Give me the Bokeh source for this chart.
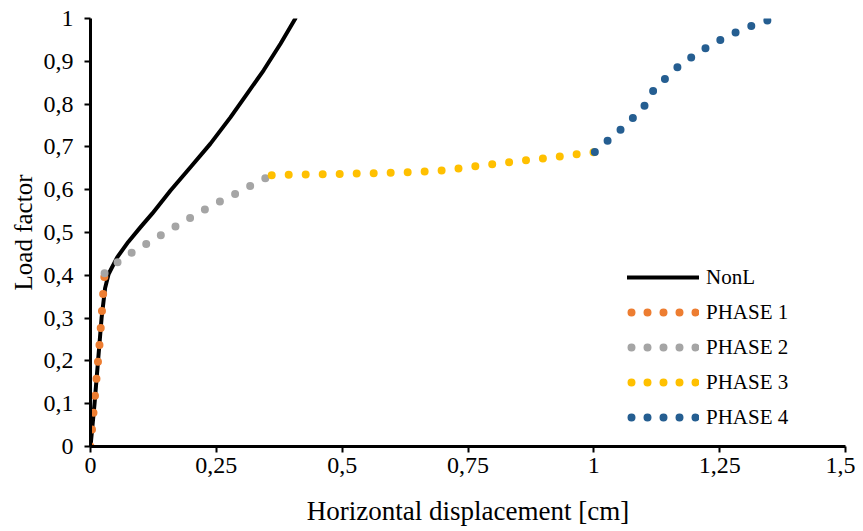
from bokeh.plotting import figure
from bokeh.models import FixedTicker, CustomJSTickFormatter, Legend, LegendItem, Range1d
from bokeh.embed import file_html
from bokeh.resources import INLINE

# ---- data ----
nonl_x = [0.0, 0.008, 0.015, 0.022, 0.029, 0.036, 0.053, 0.075, 0.099, 0.1225, 0.159, 0.199,
          0.238, 0.278, 0.311, 0.344, 0.3775, 0.407]
nonl_y = [0.0, 0.100, 0.200, 0.300, 0.370, 0.403, 0.442, 0.478, 0.512, 0.544, 0.598, 0.653,
          0.707, 0.769, 0.824, 0.879, 0.941, 1.000]

phase1_x = [0.0, 0.006, 0.012, 0.018, 0.023, 0.028]
phase1_y = [0.0, 0.080, 0.160, 0.240, 0.320, 0.405]

phase2_x = [0.028, 0.058, 0.086, 0.116, 0.146, 0.175, 0.205, 0.234, 0.265, 0.296, 0.326, 0.360]
phase2_y = [0.405, 0.435, 0.456, 0.477, 0.498, 0.518, 0.539, 0.558, 0.577, 0.595, 0.614, 0.634]

phase3_x = [0.360, 0.450, 0.550, 0.640, 0.710, 0.777, 0.846, 0.914, 0.982, 1.002]
phase3_y = [0.634, 0.636, 0.638, 0.641, 0.646, 0.657, 0.666, 0.675, 0.685, 0.688]

phase4_x = [1.002, 1.028, 1.054, 1.079, 1.102, 1.119, 1.143, 1.168, 1.197, 1.225, 1.256, 1.286, 1.318, 1.351]
phase4_y = [0.688, 0.715, 0.741, 0.769, 0.798, 0.833, 0.861, 0.888, 0.912, 0.933, 0.953, 0.970, 0.985, 0.998]

x_ticks = [0, 0.25, 0.5, 0.75, 1, 1.25, 1.5]
y_ticks = [0, 0.1, 0.2, 0.3, 0.4, 0.5, 0.6, 0.7, 0.8, 0.9, 1]

series_names = ["NonL", "PHASE 1", "PHASE 2", "PHASE 3", "PHASE 4"]
colors = ["#000000", "#ED7D31", "#A5A5A5", "#FFC000", "#255E91"]

FONT = "Liberation Serif"
NAN = float("nan")

p = figure(width=855, height=530, output_backend="svg", toolbar_location=None,
           x_range=Range1d(0, 1.5), y_range=Range1d(0, 1),
           min_border_left=90, min_border_right=10, min_border_top=18, min_border_bottom=84)
p.outline_line_color = None
p.xgrid.visible = False
p.ygrid.visible = False
p.background_fill_color = "white"
p.border_fill_color = "white"

fmt = CustomJSTickFormatter(code="return tick.toString().replace('.', ',');")

for ax, ticks in ((p.xaxis, x_ticks), (p.yaxis, y_ticks)):
    ax.ticker = FixedTicker(ticks=ticks)
    ax.formatter = fmt
    ax.axis_line_width = 3
    ax.axis_line_color = "black"
    ax.major_tick_line_width = 2
    ax.major_tick_line_color = "black"
    ax.major_tick_out = 6
    ax.major_tick_in = 0
    ax.minor_tick_line_color = None
    ax.major_label_text_font = FONT
    ax.major_label_text_font_size = "24px"
    ax.major_label_text_color = "black"
    ax.axis_label_text_font = FONT
    ax.axis_label_text_font_style = "normal"
    ax.axis_label_text_color = "black"

p.xaxis.axis_label = "Horizontal displacement [cm]"
p.yaxis.axis_label = "Load factor"
p.xaxis.axis_label_text_font_size = "27px"
p.yaxis.axis_label_text_font_size = "25px"
p.xaxis.major_label_standoff = 5
p.xaxis.axis_label_standoff = 20
p.yaxis.major_label_standoff = 11
p.yaxis.axis_label_standoff = 4

p.line(nonl_x, nonl_y, line_color=colors[0], line_width=4, line_join="round", line_cap="round")
for xs, ys, c in ((phase1_x, phase1_y, colors[1]), (phase2_x, phase2_y, colors[2]),
                  (phase3_x, phase3_y, colors[3]), (phase4_x, phase4_y, colors[4])):
    p.line(xs, ys, line_color=c, line_width=8, line_dash="0 17", line_cap="round")

# legend-only renderers (a single empty point) so the legend samples show five whole dots
leg_r = [p.line([NAN], [NAN], line_color=colors[0], line_width=4, line_cap="round")]
for c in colors[1:]:
    leg_r.append(p.line([NAN], [NAN], line_color=c, line_width=8, line_dash="0 16",
                        line_dash_offset=12, line_cap="round"))

legend = Legend(items=[LegendItem(label=n, renderers=[r]) for n, r in zip(series_names, leg_r)],
                location=(537, 14), padding=0, margin=0, spacing=5,
                glyph_width=72, glyph_height=30, label_height=30, label_standoff=7,
                label_text_font=FONT, label_text_font_size="21px", label_text_color="black",
                border_line_color=None, background_fill_alpha=0)
p.add_layout(legend)

open("out.html", "w").write(file_html(p, INLINE))
